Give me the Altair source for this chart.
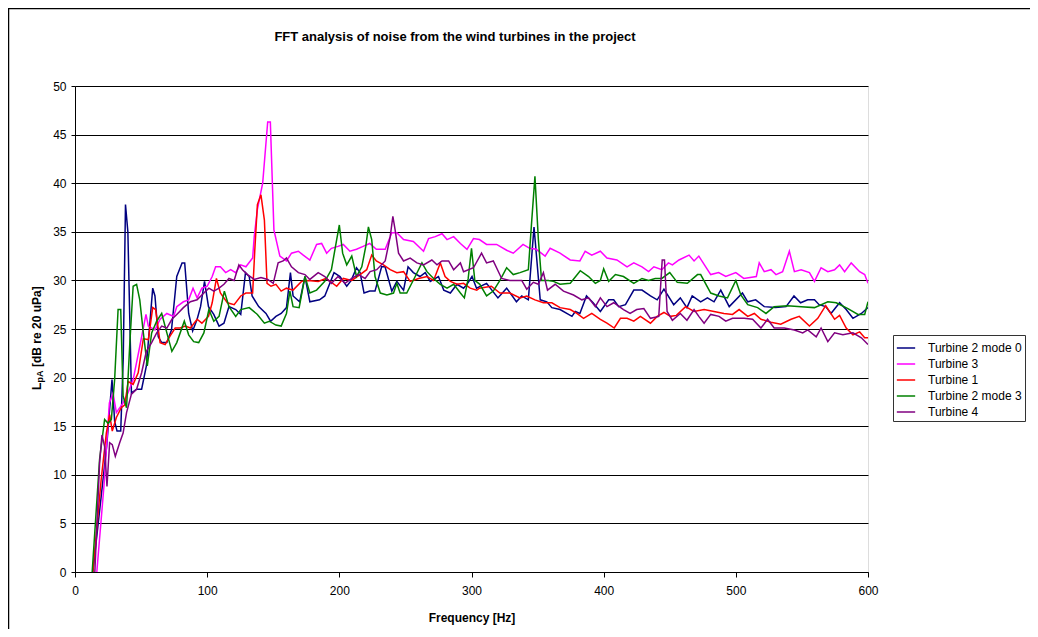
import altair as alt
import pandas as pd

TITLE = "FFT analysis of noise from the wind turbines in the project"
X_TITLE = "Frequency [Hz]"
SERIES = ["Turbine 2 mode 0", "Turbine 3", "Turbine 1", "Turbine 2 mode 3", "Turbine 4"]
COLORS = ["#000080", "#FF00FF", "#FF0000", "#008000", "#800080"]
X_TICKS = [0, 100, 200, 300, 400, 500, 600]
Y_TICKS = [0, 5, 10, 15, 20, 25, 30, 35, 40, 45, 50]

# (frequency Hz, level dB)
T2M0 = [(13.5, 0), (20, 8), (24, 13), (28, 19.8), (30, 15.5), (31.8, 14.5), (34.6, 14.5), (36.5, 22),
        (38.2, 37.8), (40, 35), (42.7, 18.4), (46.5, 18.8), (50.4, 18.8), (54, 21.2), (58.8, 29.2),
        (60.5, 28.4), (63, 24.2), (65.6, 23.6), (69.5, 23.6), (73, 24.9), (77, 30.4), (81, 31.8),
        (83, 31.8), (86, 26.6), (89, 24.8), (92.4, 26), (95, 27.3), (98, 29.9), (101, 27.3), (105, 26.5),
        (109, 25.3), (112.7, 25.6), (116.5, 27.3), (121.6, 27), (125.4, 26.5), (129, 30.8), (131.8, 30.4),
        (134, 28.4), (139, 27.3), (144.5, 26.6), (148, 25.8), (152, 26.3), (156, 26.6), (160, 27.2),
        (163, 30.8), (165, 28.4), (170, 27.8), (174, 30.4), (177.7, 27.8), (185, 28), (189, 28.4),
        (196, 30.8), (200.5, 30.4), (205.6, 29.4), (209, 30), (213, 31.3), (215.7, 30.8), (218.7, 28.7),
        (223, 28.9), (227, 28.9), (232, 31.4), (234.6, 31.4), (239.7, 28.9), (243.5, 29.9), (248.6, 29),
        (252, 31.4), (256, 30.8), (261, 30.4), (265, 30.8), (268.8, 29.9), (275, 30.4), (279, 29),
        (284, 28.7), (289, 29.6), (294, 29.2), (296.6, 29.6), (300.4, 30.4), (303.8, 29.2), (311.4, 29.7),
        (320, 28.2), (326.6, 29.2), (334, 27.8), (338, 28.4), (343, 28), (347.3, 35.5), (352, 28),
        (357, 27.8), (360.8, 27.2), (367, 27), (376, 26.3), (378.5, 26.8), (382, 26.6), (387, 28.4),
        (392, 27.7), (397.5, 26.8), (403.8, 28), (407.6, 28), (411.4, 27.3), (416.5, 27.5), (422.8, 29),
        (429, 29), (435.4, 28.4), (440.5, 28), (445.6, 29.1), (453, 27.5), (458, 28.2), (463, 27.2),
        (467, 28.4), (473.4, 27.8), (478.5, 28.2), (483.5, 27.8), (488.6, 29), (495, 27.3), (505, 28.7),
        (509, 27.8), (515, 28), (521.5, 27.3), (530, 27.2), (538, 27.3), (544, 28.4), (549, 27.7),
        (554.4, 28), (559.5, 28), (563, 27.5), (568, 27.3), (572, 26.6), (578.5, 27.7), (583.5, 27),
        (588.6, 26.1), (595, 26.6), (600, 27.2)]

T3 = [(16.5, 0), (22, 9), (26, 17.4), (28.8, 18.4), (31.3, 16.4), (36.4, 17.4), (40, 18.4), (44, 19.8),
      (49, 23.2), (53.7, 26.5), (55.5, 25.3), (60.5, 24.9), (64.4, 26), (69.5, 26.6), (74.6, 26.3),
      (77, 27.3), (82, 27.8), (86, 28), (89.3, 29.2), (92.4, 28.2), (96, 29.2), (100, 29.4), (103.8, 30.4),
      (106.4, 31.4), (110, 31.4), (114, 30.8), (117.8, 31.1), (121.6, 30.8), (125.4, 31.6), (129.3, 31.4),
      (134.4, 32.3), (135.6, 34.5), (138, 37.3), (142, 40), (145.8, 46.3), (147.8, 46.3), (150.5, 35.2),
      (155, 32.5), (160, 32), (163.8, 32.8), (169, 33), (172.7, 32.6), (177.7, 32.1), (182.8, 33.7),
      (186.6, 33.8), (190.4, 32.8), (194, 33.3), (199, 33.5), (203, 33.7), (208, 33), (213, 33.2),
      (218, 33.5), (223, 33.8), (228, 33.2), (234.7, 33.2), (239.7, 34.9), (243.5, 34.9), (248.6, 34.2),
      (256, 34), (263.7, 33), (267.5, 34.3), (272.6, 34.5), (277.7, 34.8), (281.5, 34.2), (286.5, 34.5),
      (291.6, 33.8), (296.6, 33.2), (301.5, 34.3), (306, 34.2), (311.4, 33.7), (319, 33.7), (326.6, 33.1),
      (331.6, 32.8), (339, 33.7), (344, 33.3), (349, 33.2), (355.7, 32.5), (359.5, 33.3), (367, 32.8),
      (374.7, 32.1), (382, 32), (386, 33), (391, 32.6), (397.5, 33), (402.5, 32.3), (410, 32.1),
      (417.7, 31.4), (422.8, 31.8), (429, 31.4), (434, 30.9), (438, 31.4), (444, 31.1), (449, 31.8),
      (452, 31.6), (457, 32.1), (464.6, 32.6), (468.4, 32), (472, 32.5), (481, 30.6), (487, 30.8),
      (492.4, 30.4), (500, 30.8), (506, 30.2), (515.5, 30.4), (517.7, 31.8), (521.5, 30.9), (526.6, 31.1),
      (530.4, 30.6), (535.4, 30.9), (540.5, 33), (544.3, 30.9), (549.4, 31.1), (555.7, 30.8), (559.5, 29.9),
      (564.5, 31.3), (569.6, 30.9), (574.7, 31.1), (578.5, 31.6), (582.3, 30.9), (587.3, 31.8),
      (593.7, 30.9), (597.5, 30.6), (600, 29.7)]

T1 = [(13.5, 0), (19.8, 9.5), (23.7, 14.3), (26.2, 16.2), (28.2, 14.5), (31.3, 15.9), (35, 16.9),
      (37.7, 17.2), (40.2, 19.6), (44, 19.3), (47.8, 20.5), (51.7, 24), (55.5, 23.9), (58.8, 27.2),
      (61, 27), (64.4, 23.6), (68.2, 23.4), (72, 24.3), (75.8, 25.1), (79.6, 25.1), (83.5, 25.3),
      (87.3, 25.1), (92.4, 26), (96, 25.6), (101, 26.3), (103.8, 27.7), (107, 30.2), (110, 28.7),
      (115.3, 27.7), (120.4, 27.5), (125.4, 28.4), (129.3, 28.7), (134.4, 28.7), (136, 33), (138, 37.8),
      (140.7, 38.8), (143.3, 36.2), (145.3, 29.7), (148.3, 29.4), (152, 29.6), (156, 28.9), (160, 29.2),
      (165, 29), (171.4, 29.9), (176.5, 30), (184, 29.9), (190, 30.2), (198, 29.4), (203, 30.2),
      (209.4, 30), (215.7, 30.6), (220.7, 31.1), (224.5, 32.6), (228, 32), (233.4, 31.6), (238.5, 31.1),
      (243.5, 30.8), (248.6, 30.9), (253.6, 29.9), (260, 30.2), (266.3, 30.4), (271.3, 30), (276.4, 31.8),
      (280, 30.4), (284, 29.9), (289, 29.6), (294, 29.7), (299, 29.2), (304, 29), (306, 29.2), (315, 29.4),
      (321.5, 28.7), (329, 28.7), (336.7, 28.2), (341.8, 28.4), (348, 28), (354.4, 27.7), (360.8, 27.7),
      (367, 27.2), (374.7, 27), (379.7, 26.6), (384.8, 26.1), (391, 26.6), (397.5, 26), (402.5, 25.6),
      (408, 25.1), (412.7, 26.1), (417.7, 26.1), (422.8, 25.8), (427.8, 26.3), (435.4, 25.6), (440.5, 26.3),
      (445.6, 26.7), (450.6, 26.3), (455, 26.4), (462, 27.3), (468.4, 26.8), (476, 27), (483.5, 26.8),
      (491, 26.6), (497.5, 26.5), (502.5, 27), (509, 26.3), (514, 26.6), (519, 26), (526.6, 25.7),
      (534, 25.5), (541.8, 26), (548, 26.3), (555.7, 25.3), (562, 26.1), (568, 27.4), (574.7, 26),
      (578.5, 26.4), (583.5, 25.1), (588.6, 24.4), (593.7, 24.7), (597.5, 24.1), (600, 24.1)]

T2M3 = [(13, 0), (18.6, 11.6), (22.4, 15.7), (25, 15.3), (27.5, 15.7), (30, 19.8), (32.6, 27), (34.6, 27),
        (36.4, 18.1), (39, 16.9), (41.5, 23.6), (44, 29.4), (46.6, 29.6), (49, 28), (51.7, 24.6),
        (54.7, 21.2), (58, 24.6), (61.8, 25.8), (65.6, 26.6), (69.5, 24.6), (73.3, 22.7), (77, 23.6),
        (82.7, 25.8), (86, 24.4), (89.8, 23.7), (93.6, 23.6), (97.5, 24.6), (101.3, 27), (105, 25.8),
        (109, 26.3), (113, 28.9), (116.5, 27.3), (121.6, 26.3), (125.4, 27), (131.8, 27.2), (138, 26.5),
        (143.3, 25.6), (147, 25.8), (152, 25.4), (156, 25.3), (160, 26.6), (162.6, 28.9), (165, 27.3),
        (169.6, 27.2), (174, 30.4), (177.7, 28.7), (182.8, 29), (189, 29.9), (194, 31.1), (198, 34.2),
        (200, 35.7), (202.5, 32.8), (205.6, 31.6), (209.4, 32.5), (213, 30.4), (217, 31.4), (220, 33.5),
        (222, 35.5), (224.5, 34.2), (227, 30.4), (231, 28.7), (236, 28.5), (241, 28.7), (243.5, 29.7),
        (246, 28.7), (251, 28.7), (257.4, 30.4), (262.5, 31.8), (266.3, 30.9), (271.3, 30.2), (276.4, 29.6),
        (281.5, 29.2), (286.5, 29.6), (291.6, 28.7), (294.6, 28.2), (297.5, 30.2), (300, 33.3), (302.5, 30),
        (306.3, 29.6), (311.4, 28.4), (316.5, 28.9), (321.5, 30), (326.6, 31.3), (331.6, 30.6),
        (336.7, 30.8), (343, 31.1), (345.6, 36.2), (348, 40.7), (350.6, 34.2), (353, 30), (358, 30),
        (362, 29.9), (367, 29.6), (374.7, 29.7), (382.3, 31), (388.6, 30.4), (393.7, 29.7), (397.5, 30),
        (400, 31.2), (403.8, 29.9), (408.9, 30.6), (415, 30.4), (422.8, 29.7), (429, 30.2), (434, 30),
        (439, 30.2), (444, 30.2), (450, 30.8), (455.7, 29.8), (463.3, 29.7), (471, 30.6), (473.4, 30.6),
        (481, 28.7), (487.3, 28.4), (493.7, 28.2), (500, 30), (503.8, 28.5), (509, 27.5), (516.5, 27.2),
        (522.8, 26.6), (529, 27.3), (539, 27.4), (549.4, 27.3), (559.5, 27.2), (569.6, 27.8), (576, 27.7),
        (584.8, 27.1), (592.4, 26.5), (597.5, 26.5), (600, 27.8)]

T4 = [(15, 0), (18.6, 11.2), (20.4, 14.1), (22.4, 12.9), (24.2, 8.8), (26.2, 13.3), (28.2, 13.1),
      (30.5, 11.9), (33.8, 13.3), (36.4, 14.3), (39, 16.4), (42.7, 18.3), (46.6, 18.8), (50.4, 20.5),
      (54, 22.7), (58, 23.6), (61.8, 24.6), (65.6, 25.3), (69.5, 25.1), (73.3, 26), (77, 26.5), (82, 27.2),
      (87.3, 27.8), (92.4, 28), (97.5, 28.7), (101.3, 29.2), (105, 28.9), (109, 29.2), (112.7, 29.6),
      (116.5, 30.2), (120.4, 30), (124, 31.6), (126.7, 31.1), (130.5, 30.6), (135.6, 30.1), (140.7, 30.3),
      (145.8, 30.1), (150, 29.7), (153.7, 31.8), (157.5, 32), (160, 32.3), (163.8, 31.4), (169, 30.8),
      (174, 30.6), (177.7, 30.1), (184, 30.8), (189, 30.4), (194, 29.7), (199, 30.4), (204.3, 29.7),
      (209.4, 30.2), (214.4, 30.6), (219.5, 30.2), (223.3, 30.9), (228.3, 31.1), (234.7, 32), (238.5, 34.5),
      (240.5, 36.6), (242.2, 35.2), (244.8, 32.8), (248.6, 32), (253.6, 32.3), (258.7, 31.8), (263.7, 31.6),
      (270, 32.1), (273.9, 31.6), (277.7, 32), (282.7, 32), (286.5, 31.1), (291.6, 31.8), (294, 30.9),
      (301.5, 31.3), (307.6, 32.8), (311.4, 31.8), (316.5, 32), (322.8, 30.2), (329, 30), (338, 30),
      (341.8, 29.1), (346.8, 29.8), (350.6, 29.6), (354.4, 30.8), (357.5, 29), (363.3, 29.6), (369.6, 28.9),
      (377.2, 28.5), (383.5, 28), (388.6, 28.2), (393.7, 27.3), (397.5, 28.2), (402.5, 27.3), (407.6, 27.7),
      (415, 27), (420, 26.6), (425, 27), (430.4, 27.1), (435.4, 26.1), (441.7, 26.3), (444.3, 32.1),
      (446, 32.1), (448, 26.8), (452, 25.9), (458, 26.6), (463, 25.9), (468.4, 27), (472, 26.3), (476, 25.6),
      (481, 26.5), (487.3, 26.3), (492.4, 25.8), (497.5, 26.1), (506.3, 26.1), (512.7, 26), (519, 25.1),
      (524, 26), (529, 25.1), (536.7, 25.1), (544.3, 24.9), (550.6, 24.6), (554.4, 24.9), (560.8, 24.2),
      (564.5, 25.1), (569.6, 23.7), (574.7, 24.6), (581, 24.4), (588.6, 24.6), (595, 24.1), (600, 23.4)]

rows = []
for name, pts in zip(SERIES, [T2M0, T3, T1, T2M3, T4]):
    for f, v in pts:
        rows.append({"series": name, "freq": f, "level": v})
df = pd.DataFrame(rows)

FONT = "Liberation Sans"
W, H = 793, 486

lines = alt.Chart(df).mark_line(strokeWidth=1.5, clip=True).encode(
    x=alt.X("freq:Q", scale=alt.Scale(domain=[0, 600], nice=False, zero=False),
            axis=alt.Axis(values=X_TICKS, grid=False, title=X_TITLE, titleFont=FONT, titleFontSize=12,
                          titleFontWeight="bold", titleColor="black", titlePadding=16,
                          labelFont=FONT, labelFontSize=12, labelColor="black", labelPadding=8,
                          tickColor="black", tickSize=5, domainColor="black", labelFlush=False)),
    y=alt.Y("level:Q", scale=alt.Scale(domain=[0, 50], nice=False),
            axis=alt.Axis(values=Y_TICKS, grid=True, gridColor="black", gridWidth=1, title=None,
                          labelFont=FONT, labelFontSize=12, labelColor="black", labelPadding=5,
                          tickColor="black", tickSize=4, domainColor="black")),
    color=alt.Color("series:N", sort=SERIES,
                    scale=alt.Scale(domain=SERIES, range=COLORS),
                    legend=alt.Legend(title=None, orient="none", legendX=818, legendY=249,
                                      symbolType="stroke", symbolSize=336, symbolStrokeWidth=1.5,
                                      labelFont=FONT, labelFontSize=12, labelColor="black",
                                      labelOffset=12, rowPadding=0, padding=3,
                                      strokeColor="#333333", fillColor="white")),
    order="freq:Q",
)

one = pd.DataFrame({"t": [TITLE]})
title = alt.Chart(one).mark_text(font=FONT, fontSize=13, fontWeight="bold", color="black",
                                 baseline="middle", align="center").encode(
    text="t:N", x=alt.value(380), y=alt.value(-49))

ylab_L = alt.Chart(pd.DataFrame({"t": ["L"]})).mark_text(
    font=FONT, fontSize=12, fontWeight="bold", color="black", angle=270, align="left",
    baseline="middle").encode(text="t:N", x=alt.value(-38), y=alt.value(304))
ylab_sub = alt.Chart(pd.DataFrame({"t": ["pA"]})).mark_text(
    font=FONT, fontSize=9, fontWeight="bold", color="black", angle=270, align="left",
    baseline="middle").encode(text="t:N", x=alt.value(-35), y=alt.value(296.5))
ylab_rest = alt.Chart(pd.DataFrame({"t": ["[dB re 20 uPa]"]})).mark_text(
    font=FONT, fontSize=12, fontWeight="bold", color="black", angle=270, align="left",
    baseline="middle").encode(text="t:N", x=alt.value(-38), y=alt.value(281))

border = alt.Chart(pd.DataFrame({"a": [0]})).mark_rect(
    fill="white", fillOpacity=0, stroke="black", strokeWidth=1.5).encode(
    x=alt.value(-66.5), x2=alt.value(1200), y=alt.value(-77.5), y2=alt.value(800))

chart = alt.layer(border, lines, title, ylab_L, ylab_sub, ylab_rest).properties(
    width=W, height=H,
    autosize=alt.AutoSizeParams(type="none"),
    padding={"left": 67, "top": 78, "right": 162, "bottom": 57},
).configure_view(stroke=None).configure(background="white")

chart.save("out.html", embed_options={"renderer": "svg", "actions": False})
